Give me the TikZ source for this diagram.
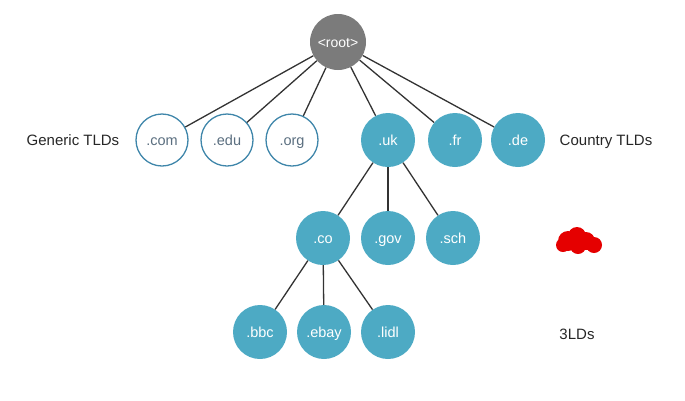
\documentclass[tikz,border=0pt]{standalone}
\usepackage{fontspec}
\setmainfont{Liberation Sans}
\definecolor{teal}{HTML}{4DAAC4}
\definecolor{rim}{HTML}{3F86AA}
\definecolor{gtext}{HTML}{5B6F80}
\definecolor{rootgray}{HTML}{7B7B7B}
\definecolor{edge}{HTML}{333333}
\begin{document}
\begin{tikzpicture}[x=1pt,y=-1pt,
  ctext/.style={text height=1.9ex,text depth=0ex},
  tld/.style={circle,minimum size=54pt,inner sep=0pt,fill=teal,text=white,ctext,font=\fontsize{14.5}{16}\selectfont},
  gen/.style={circle,minimum size=52pt,inner sep=0pt,draw=rim,line width=1.3pt,fill=white,text=gtext,ctext,font=\fontsize{14.5}{16}\selectfont},
  rootnode/.style={circle,minimum size=56pt,inner sep=0pt,fill=rootgray,text=white,ctext,font=\fontsize{14}{16}\selectfont},
  lab/.style={text=black!85,ctext,font=\fontsize{15}{17}\selectfont},
  link/.style={draw=edge,line width=1.3pt}]
\useasboundingbox (0,0) rectangle (685,400);
\node[rootnode] (root) at (338,42) {<root>};
\node[gen] (com) at (162,140) {.com};
\node[gen] (edu) at (227,140) {.edu};
\node[gen] (org) at (292,140) {.org};
\node[tld] (uk) at (388,140) {.uk};
\node[tld] (fr) at (455,140) {.fr};
\node[tld] (de) at (518,140) {.de};
\node[tld] (co) at (323,238) {.co};
\node[tld] (gov) at (388,238) {.gov};
\node[tld] (sch) at (453,238) {.sch};
\node[tld] (bbc) at (260,332) {.bbc};
\node[tld] (ebay) at (324,332) {.ebay};
\node[tld] (lidl) at (388,332) {.lidl};
\node[lab] (gl) at (73,140) {Generic TLDs};
\node[lab] (cl) at (606,140) {Country TLDs};
\node[lab] (tl) at (577,334) {3LDs};
\foreach \c in {com,edu,org,uk,fr,de} \draw[link] (root) -- (\c);
\foreach \c in {co,gov,sch} \draw[link] (uk) -- (\c);
\foreach \c in {bbc,ebay,lidl} \draw[link] (co) -- (\c);
\fill[red!90!black] (568,241) circle (10) (577,236) circle (9) (586,241) circle (9) (594,245) circle (8) (578,246) circle (8) (563,245) circle (7);
\end{tikzpicture}
\end{document}
